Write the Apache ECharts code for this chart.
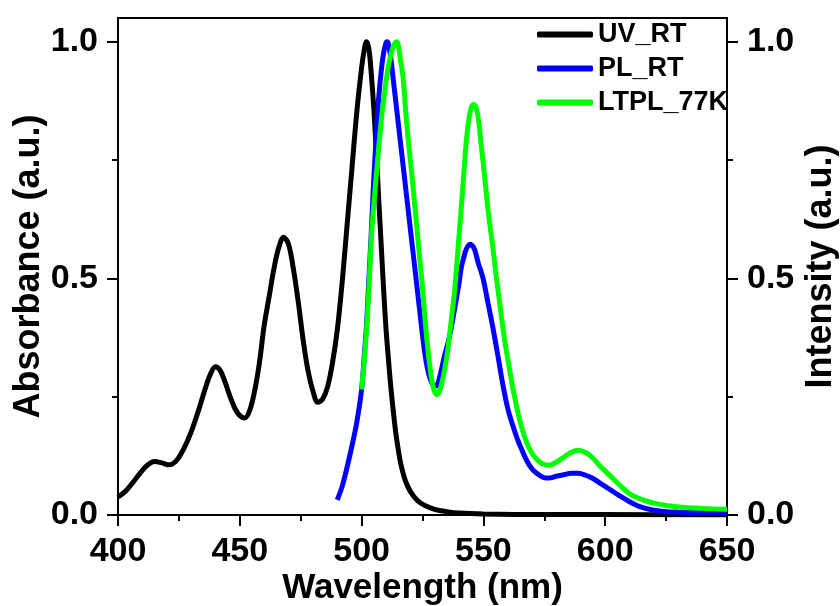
<!DOCTYPE html>
<html>
<head>
<meta charset="utf-8">
<script src="https://cdn.jsdelivr.net/npm/echarts@6/dist/echarts.min.js"></script>
<style>
html,body{margin:0;padding:0;background:#fff;}
#c{width:840px;height:606px;}
</style>
</head>
<body>
<div id="c"></div>
<script>
// Wavelength (nm) and normalized values
const uvX = [400,403,406,409,412,415,418,421,424,427,430,433,436,438,440,442,444,446,448,450,452,454,456,458,460,462,464,466,468,470,472,474,476,478,480,482,484,486,488,490,492,494,496,498,500,501,502,503,504,505,506,507,508,509,510,511,512,513,514,515,516,518,520,523,526,530,535,540,550,575,600,650];
const uvY = [0.038,0.05,0.068,0.088,0.105,0.113,0.110,0.106,0.115,0.14,0.175,0.22,0.27,0.298,0.313,0.305,0.28,0.25,0.225,0.21,0.205,0.22,0.26,0.32,0.40,0.46,0.52,0.565,0.587,0.572,0.52,0.45,0.37,0.305,0.262,0.238,0.245,0.27,0.32,0.39,0.49,0.61,0.73,0.85,0.945,0.98,1.0,0.985,0.93,0.86,0.77,0.67,0.575,0.48,0.395,0.33,0.27,0.22,0.175,0.14,0.11,0.072,0.05,0.03,0.02,0.012,0.007,0.004,0.002,0.001,0.001,0.0];

const plX = [490,492,494,496,498,500,501,502,503,504,505,506,507,508,509,510,510.5,511,512,513,514,515,516,517,518,519,520,521,522,523,524,525,526,527,528,529,530,531,532,534,536,538,540,541,542,543,544.5,546,547,548,549,550,552,554,556,558,560,562,564,566,568,570,572,574,576,578,580,583,586,589,592,595,598,601,604,607,610,613,616,620,625,630,640,650];
const plY = [0.032,0.06,0.1,0.145,0.195,0.265,0.33,0.40,0.50,0.60,0.71,0.80,0.88,0.935,0.975,0.997,1.0,0.995,0.965,0.92,0.875,0.83,0.785,0.74,0.695,0.65,0.605,0.56,0.515,0.47,0.425,0.38,0.34,0.31,0.29,0.278,0.272,0.274,0.29,0.335,0.375,0.43,0.49,0.525,0.545,0.562,0.572,0.565,0.55,0.53,0.515,0.497,0.445,0.393,0.335,0.275,0.225,0.19,0.16,0.135,0.113,0.097,0.088,0.081,0.078,0.079,0.082,0.085,0.088,0.088,0.084,0.077,0.067,0.057,0.047,0.037,0.028,0.02,0.015,0.01,0.007,0.006,0.005,0.005];

const ltX = [500,501,502,503,504,505,506,507,508,509,510,511,512,513,514.4,516,517,518,519,520,521,522,523,524,525,526,527,528,529,530,531,532,533,534,535,536,537,538,539,540,541,542,543,544,545,546,547,548,549,550,551,552,553,554,555,556,557,558,559,560,561,562,563,564,566,568,570,572,574,577,580,583,586,589,592,595,598,601,604,607,610,613,616,620,625,630,640,650];
const ltY = [0.265,0.32,0.39,0.48,0.585,0.655,0.715,0.775,0.83,0.875,0.915,0.948,0.972,0.99,1.0,0.96,0.925,0.86,0.80,0.75,0.70,0.645,0.59,0.535,0.48,0.415,0.36,0.315,0.28,0.26,0.254,0.262,0.28,0.305,0.335,0.375,0.42,0.465,0.525,0.59,0.655,0.725,0.79,0.835,0.86,0.867,0.86,0.835,0.785,0.74,0.69,0.64,0.6,0.56,0.515,0.475,0.435,0.395,0.36,0.33,0.3,0.27,0.245,0.22,0.18,0.15,0.13,0.117,0.109,0.105,0.112,0.122,0.132,0.137,0.132,0.12,0.103,0.088,0.073,0.058,0.045,0.037,0.031,0.025,0.02,0.017,0.014,0.012];

const xMajor = [400,450,500,550,600,650];
const xMinor = [425,475,525,575,625];
const yMajor = [0, 0.5, 1.0];
const yMinor = [0.25, 0.75];

const FONT = '"Liberation Sans", Arial, sans-serif';
const pairs = (xs, ys) => xs.map((x, i) => [x, ys[i]]);

const chart = echarts.init(document.getElementById('c'));
const tickStyle = { color: '#000', width: 2 };
const labelStyle = { color: '#000', fontSize: 34, fontWeight: 'bold', fontFamily: FONT };
const majorY = (pos, name, gap) => ({
  type: 'value', position: pos, min: 0, max: 1.05, interval: 0.25,
  axisLine: { show: true, lineStyle: tickStyle },
  axisTick: { show: true, inside: false, length: 11, lineStyle: tickStyle, customValues: yMajor },
  axisLabel: Object.assign({ show: true, customValues: yMajor, margin: 20, formatter: v => v.toFixed(1) }, labelStyle),
  splitLine: { show: false },
  name: name, nameLocation: 'middle', nameGap: gap, nameRotate: 90, nameMoveOverlap: false,
  nameTextStyle: { color: '#000', fontSize: 36, fontWeight: 'bold', fontFamily: FONT }
});
const minorY = (pos) => ({
  type: 'value', position: pos, min: 0, max: 1.05, interval: 0.25,
  axisLine: { show: false },
  axisTick: { show: true, inside: false, length: 6, lineStyle: tickStyle, customValues: yMinor },
  axisLabel: { show: false },
  splitLine: { show: false }
});
const xBase = {
  type: 'value', position: 'bottom', min: 400, max: 650, interval: 50,
  splitLine: { show: false }
};

chart.setOption({
  backgroundColor: '#fff',
  animation: false,
  grid: { left: 118, right: 113, top: 18, bottom: 91, containLabel: false, outerBoundsMode: 'none',
    show: true, borderColor: '#000', borderWidth: 2, backgroundColor: 'transparent' },
  legend: {
    orient: 'vertical', left: 537, top: 21, padding: 0, itemWidth: 56, itemHeight: 6, itemGap: 7, icon: 'roundRect',
    textStyle: { color: '#000', fontSize: 27, fontWeight: 'bold', fontFamily: FONT, lineHeight: 27 },
    data: ['UV_RT', 'PL_RT', 'LTPL_77K']
  },
  xAxis: [
    Object.assign({}, xBase, {
      axisLine: { show: true, onZero: false, lineStyle: tickStyle },
      axisTick: { show: true, inside: false, length: 11, lineStyle: tickStyle, customValues: xMajor },
      axisLabel: Object.assign({ margin: 20, customValues: xMajor }, labelStyle),
      name: 'Wavelength (nm)', nameLocation: 'middle', nameGap: 56, nameMoveOverlap: false,
      nameTextStyle: { color: '#000', fontSize: 35, fontWeight: 'bold', fontFamily: FONT }
    }),
    Object.assign({}, xBase, {
      axisLine: { show: false, onZero: false },
      axisTick: { show: true, inside: false, length: 6, lineStyle: tickStyle, customValues: xMinor },
      axisLabel: { show: false }
    })
  ],
  yAxis: [
    majorY('left', 'Absorbance (a.u.)', 71),
    minorY('left'),
    majorY('right', 'Intensity (a.u.)', 76),
    minorY('right')
  ],
  series: [
    { name: 'UV_RT', type: 'line', yAxisIndex: 0, data: pairs(uvX, uvY), showSymbol: false, symbol: 'none', smooth: 0.35,
      lineStyle: { color: '#000000', width: 5 }, itemStyle: { color: '#000000' } },
    { name: 'PL_RT', type: 'line', yAxisIndex: 2, data: pairs(plX, plY), showSymbol: false, symbol: 'none', smooth: 0.35,
      lineStyle: { color: '#0000ff', width: 5 }, itemStyle: { color: '#0000ff' } },
    { name: 'LTPL_77K', type: 'line', yAxisIndex: 2, data: pairs(ltX, ltY), showSymbol: false, symbol: 'none', smooth: 0.35,
      lineStyle: { color: '#00ff00', width: 5 }, itemStyle: { color: '#00ff00' } }
  ]
});
</script>
</body>
</html>
